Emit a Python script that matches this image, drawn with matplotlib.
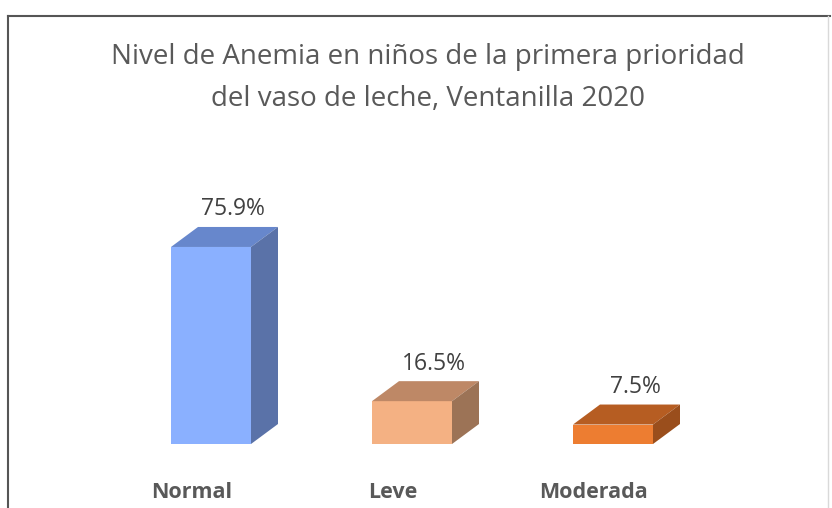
import matplotlib
matplotlib.use("Agg")
import matplotlib.pyplot as plt
from matplotlib.patches import Polygon
from matplotlib.lines import Line2D

# data
categories = ['Normal', 'Leve', 'Moderada']
values = [75.9, 16.5, 7.5]
labels = ['75.9%', '16.5%', '7.5%']

front_colors = ['#8AB0FF', '#F4B183', '#ED7D31']
top_colors = ['#6787CC', '#BE8866', '#B65D22']
side_colors = ['#5A72A8', '#9C7356', '#9A4E1C']

W, H = 832, 508
fig = plt.figure(figsize=(W / 100, H / 100), dpi=100)
ax = fig.add_axes([0, 0, 1, 1])

# pixel layout -> data limits (category spacing ~201px, 2.596 px per %)
px_unit = 201.0
px_pct = 2.596
x0_px, y0_px = 211.0, H - 444.0
ax.set_xlim(-x0_px / px_unit, (W - x0_px) / px_unit)
ax.set_ylim(-y0_px / px_pct, (H - y0_px) / px_pct)
ax.axis('off')

bw = 80 / px_unit          # front face width
dx = 27 / px_unit          # depth offset in x
dy = 20 / px_pct           # depth offset in y

xs = list(range(len(categories)))
ax.bar(xs, values, width=bw, color=front_colors, linewidth=0, zorder=3)
for x, v, tc, sc in zip(xs, values, top_colors, side_colors):
    l, r = x - bw / 2, x + bw / 2
    top = Polygon([(l, v), (r, v), (r + dx, v + dy), (l + dx, v + dy)],
                  closed=True, facecolor=tc, edgecolor='none', zorder=3)
    side = Polygon([(r, 0), (r + dx, dy), (r + dx, v + dy), (r, v)],
                   closed=True, facecolor=sc, edgecolor='none', zorder=3)
    ax.add_patch(top)
    ax.add_patch(side)

font = 'Open Sans'
for x, v, lab in zip(xs, values, labels):
    ax.text(x + 0.11, v + dy + 6.8, lab, ha='center', va='center',
            fontsize=16.5, color='#404040', family=font)

for x, c in zip(xs, categories):
    ax.text(x - 0.095, -18.5, c, ha='center', va='center', fontsize=15.5,
            fontweight='bold', color='#595959', family=font)

fig.text(0.514, 1 - 57 / H, 'Nivel de Anemia en niños de la primera prioridad',
         ha='center', va='center', fontsize=20, color='#595959', family=font)
fig.text(0.514, 1 - 99 / H, 'del vaso de leche, Ventanilla 2020',
         ha='center', va='center', fontsize=20, color='#595959', family=font)

# chart border (top + left dark, right faint)
fig.add_artist(Line2D([8 / W, 830 / W], [1 - 16 / H, 1 - 16 / H], color='#555555', lw=1.5))
fig.add_artist(Line2D([8 / W, 8 / W], [0, 1 - 16 / H], color='#555555', lw=1.5))
fig.add_artist(Line2D([828 / W, 828 / W], [0, 1 - 16 / H], color='#D9D9D9', lw=1))

fig.savefig('out.png', dpi=100)
